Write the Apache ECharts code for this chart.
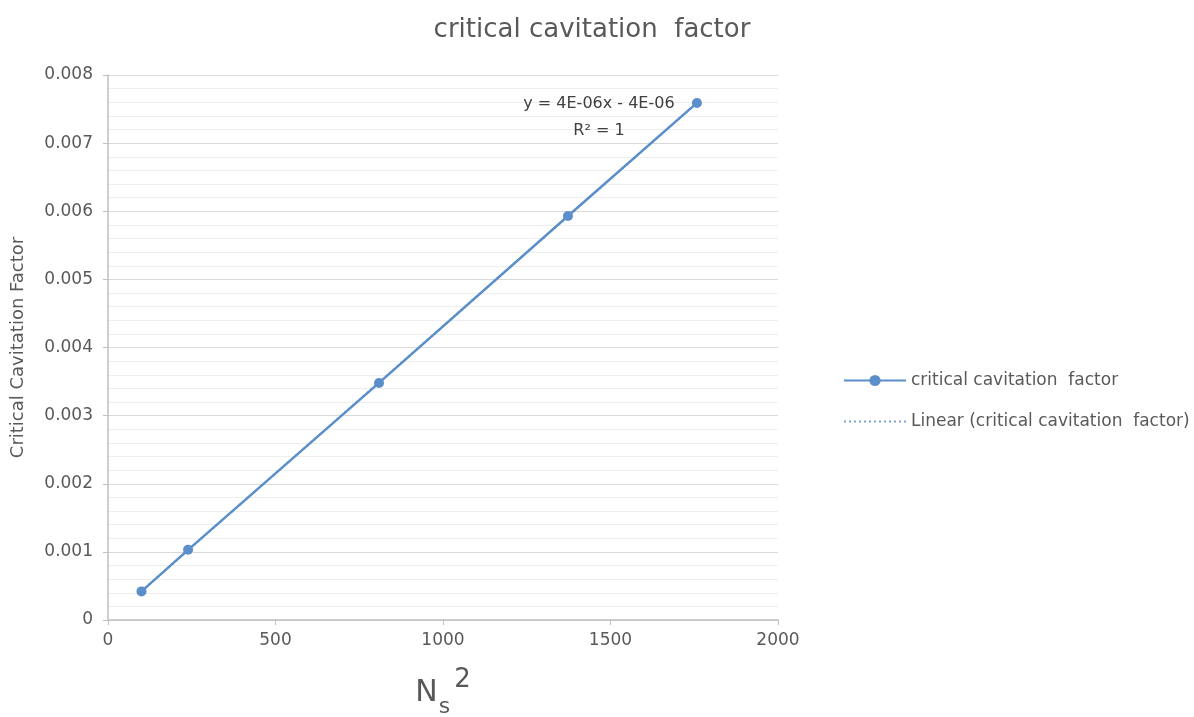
<!DOCTYPE html>
<html><head><meta charset="utf-8">
<script src="https://cdn.jsdelivr.net/npm/echarts@6/dist/echarts.min.js"></script>
<style>html,body{margin:0;padding:0;background:#fff}#c{width:1194px;height:717px}</style>
</head><body><div id="c"></div>
<script>
const xValues = [100, 239, 809, 1373, 1758];
const yValues = [0.00042, 0.00103, 0.00348, 0.00593, 0.00759];
const seriesName = 'critical cavitation  factor';
const trendName = 'Linear (critical cavitation  factor)';
const titleText = 'critical cavitation  factor';
const yAxisTitle = 'Critical Cavitation Factor';
const equationLines = ['y = 4E-06x - 4E-06', 'R² = 1'];

// least-squares fit of the data (Excel linear trendline)
const n = xValues.length;
const mx = xValues.reduce((a,b)=>a+b,0)/n, my = yValues.reduce((a,b)=>a+b,0)/n;
let sxy=0, sxx=0;
for (let i=0;i<n;i++){sxy+=(xValues[i]-mx)*(yValues[i]-my);sxx+=(xValues[i]-mx)**2;}
const slope = sxy/sxx, icpt = my - slope*mx;
const trendData = [xValues[0], xValues[n-1]].map(x=>[x, icpt+slope*x]);

const FONT = 'DejaVu Sans';
const txt = '#595959';
const chart = echarts.init(document.getElementById('c'));
chart.setOption({
  animation:false,
  title:{text:titleText,left:587,top:12,textAlign:'center',textStyle:{fontFamily:FONT,fontSize:26,fontWeight:'normal',color:txt}},
  grid:{left:108,right:416,top:75,bottom:97,outerBoundsMode:'none',containLabel:false},
  legend:{orient:'vertical',left:838,top:367,itemGap:24,itemWidth:62,itemHeight:14,
    textStyle:{fontFamily:FONT,fontSize:17,color:txt},data:[seriesName,trendName]},
  xAxis:{type:'value',min:0,max:2000,interval:500,
    name:'{a|N}{b|s}{c|2}',nameLocation:'middle',nameGap:58,
    nameTextStyle:{rich:{a:{fontFamily:FONT,fontSize:30,color:txt},
      b:{fontFamily:FONT,fontSize:22,color:txt,verticalAlign:'bottom',padding:[0,0,-10,1]},
      c:{fontFamily:FONT,fontSize:26,color:txt,verticalAlign:'top',padding:[-11,0,0,4]}}},
    axisLine:{show:true,lineStyle:{color:'#bfbfbf',width:1.5}},
    axisTick:{show:true,length:5,lineStyle:{color:'#bfbfbf'}},
    axisLabel:{fontFamily:FONT,fontSize:17,color:txt,margin:12,formatter:v=>String(v)},
    splitLine:{show:false}},
  yAxis:{type:'value',min:0,max:0.008,interval:0.001,
    name:yAxisTitle,nameLocation:'middle',nameGap:81,nameRotate:90,
    nameTextStyle:{fontFamily:FONT,fontSize:18,color:txt},
    axisLine:{show:true,lineStyle:{color:'#bfbfbf',width:1.5}},
    axisTick:{show:true,length:5,lineStyle:{color:'#bfbfbf'}},
    axisLabel:{fontFamily:FONT,fontSize:17,color:txt,margin:15,formatter:v=>v===0?'0':v.toFixed(3)},
    splitLine:{show:true,lineStyle:{color:'#d9d9d9',width:1}},
    minorTick:{show:false,splitNumber:5},
    minorSplitLine:{show:true,lineStyle:{color:'#eeeeee',width:1}}},
  series:[
    {name:seriesName,type:'line',data:xValues.map((x,i)=>[x,yValues[i]]),
     symbol:'circle',symbolSize:10,itemStyle:{color:'#5b8fc9'},lineStyle:{color:'#5b8fc9',width:2.5},z:3},
    {name:trendName,type:'line',data:trendData,symbol:'circle',showSymbol:false,
     itemStyle:{color:'rgba(0,0,0,0)'},lineStyle:{color:'#7aa7d6',width:2,type:[2,3]},z:2,
     markPoint:{symbol:'rect',symbolSize:1,itemStyle:{color:'rgba(0,0,0,0)'},
       data:[{coord:trendData[1],label:{show:true,position:'inside',
       formatter:equationLines.join('\n'),offset:[-98,14],align:'center',lineHeight:27,
       fontFamily:FONT,fontSize:16,color:'#404040'}}]}}
  ]
});
</script></body></html>
